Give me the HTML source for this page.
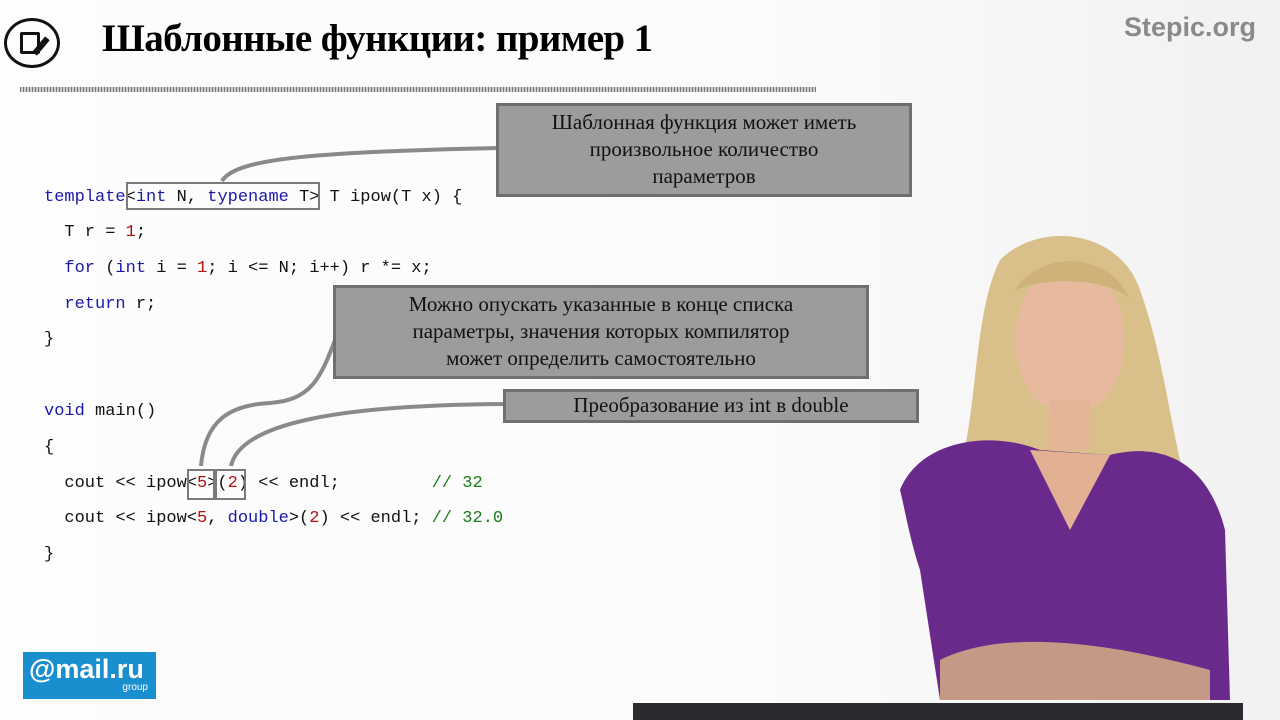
<!DOCTYPE html>
<html><head><meta charset="utf-8"><style>
*{margin:0;padding:0;box-sizing:border-box}
body{width:1280px;height:720px;overflow:hidden;background:#fbfbfb;position:relative;font-family:"Liberation Serif",serif}
.a{position:absolute}
.code{position:absolute;font-family:"Liberation Mono",monospace;font-size:17px;color:#111;white-space:pre;line-height:20px}
.k{color:#1a1aa8}.n{color:#b01010}.c{color:#1a7a1a}
.call{position:absolute;background:#9c9c9c;border:3px solid #6f6f6f;color:#111;font-size:21px;text-align:center;line-height:27px}
.box{position:absolute;border:2px solid #7a7a7a}
</style></head><body>
<div class="a" style="left:0;top:0;width:1280px;height:720px;background:linear-gradient(90deg,#fdfdfd 0,#fbfbfb 60%,#f1f1f1 100%)"></div>
<!-- icon -->
<div class="a" style="left:4px;top:18px;width:56px;height:50px;border:3px solid #111;border-radius:50%"></div>
<div class="a" style="left:20px;top:32px;width:20px;height:22px;border:3px solid #111;border-radius:2px"></div>
<div class="a" style="left:38px;top:36px;width:6px;height:20px;background:#111;transform:rotate(40deg)"></div>
<div class="a" style="left:102px;top:16px;font-size:39px;font-weight:bold;color:#000;letter-spacing:-0.6px">Шаблонные функции: пример 1</div>
<div class="a" style="left:1124px;top:12px;font-family:'Liberation Sans',sans-serif;font-size:27px;font-weight:bold;color:#8a8a8a">Stepic.org</div>
<div class="a" style="left:20px;top:87px;width:796px;height:5px;background:repeating-linear-gradient(90deg,#777 0 1px,#ccc 1px 3px)"></div>

<svg class="a" style="left:0;top:0" width="1280" height="720">
<g fill="none" stroke="#8a8a8a" stroke-width="4">
<path d="M222 181 C235 160 300 152 500 148"/>
<path d="M201 466 C205 420 230 405 270 403 C310 400 320 380 335 340"/>
<path d="M231 466 C240 425 330 405 506 404"/>
</g></svg>

<div class="code" style="left:44px;top:188px"><span class="k">template</span>&lt;<span class="k">int</span> N, <span class="k">typename</span> T&gt; T ipow(T x) {</div>
<div class="code" style="left:44px;top:223px">  T r = <span class="n">1</span>;</div>
<div class="code" style="left:44px;top:259px">  <span class="k">for</span> (<span class="k">int</span> i = <span class="n">1</span>; i &lt;= N; i++) r *= x;</div>
<div class="code" style="left:44px;top:295px">  <span class="k">return</span> r;</div>
<div class="code" style="left:44px;top:330px">}</div>
<div class="code" style="left:44px;top:402px"><span class="k">void</span> main()</div>
<div class="code" style="left:44px;top:438px">{</div>
<div class="code" style="left:44px;top:474px">  cout &lt;&lt; ipow&lt;<span class="n">5</span>&gt;(<span class="n">2</span>) &lt;&lt; endl;         <span class="c">// 32</span></div>
<div class="code" style="left:44px;top:509px">  cout &lt;&lt; ipow&lt;<span class="n">5</span>, <span class="k">double</span>&gt;(<span class="n">2</span>) &lt;&lt; endl; <span class="c">// 32.0</span></div>
<div class="code" style="left:44px;top:545px">}</div>

<div class="box" style="left:126px;top:182px;width:194px;height:28px"></div>
<div class="box" style="left:187px;top:469px;width:28px;height:31px"></div>
<div class="box" style="left:215px;top:469px;width:31px;height:31px"></div>

<div class="call" style="left:496px;top:103px;width:416px;height:94px;padding-top:3px">Шаблонная функция может иметь<br>произвольное количество<br>параметров</div>
<div class="call" style="left:333px;top:285px;width:536px;height:94px;padding-top:3px">Можно опускать указанные в конце списка<br>параметры, значения которых компилятор<br>может определить самостоятельно</div>
<div class="call" style="left:503px;top:389px;width:416px;height:34px;line-height:26px">Преобразование из int в double</div>

<div class="a" style="left:23px;top:652px;width:133px;height:47px;background:#1a8fd0;color:#fff;font-family:'Liberation Sans',sans-serif;font-weight:bold;font-size:27px;padding:3px 0 0 6px;line-height:28px">@mail.ru<div style="font-size:10px;font-weight:normal;text-align:right;padding-right:8px;line-height:10px">group</div></div>

<!-- person -->
<svg class="a" style="left:880px;top:230px" width="400" height="490">
<path d="M120 30 C160 -10 240 0 260 60 C285 130 290 200 310 270 L70 270 C100 200 90 90 120 30Z" fill="#d9c08a"/>
<ellipse cx="190" cy="110" rx="55" ry="75" fill="#e7b99d"/>
<path d="M135 60 C160 20 230 20 250 70 C235 50 170 45 135 60Z" fill="#cfb27a"/>
<rect x="170" y="170" width="40" height="50" fill="#e4b497"/>
<path d="M20 260 C40 210 110 200 160 220 L230 225 C290 210 330 240 345 300 L350 470 L60 470 L40 340 C30 310 25 280 20 260Z" fill="#6a2a8c"/>
<path d="M150 220 L190 300 L230 225Z" fill="#e2b193"/>
<path d="M60 430 C120 400 220 410 330 440 L330 470 L60 470Z" fill="#c49a86"/>
</svg>
<div class="a" style="left:633px;top:703px;width:610px;height:17px;background:#2b2b2f"></div>
</body></html>
